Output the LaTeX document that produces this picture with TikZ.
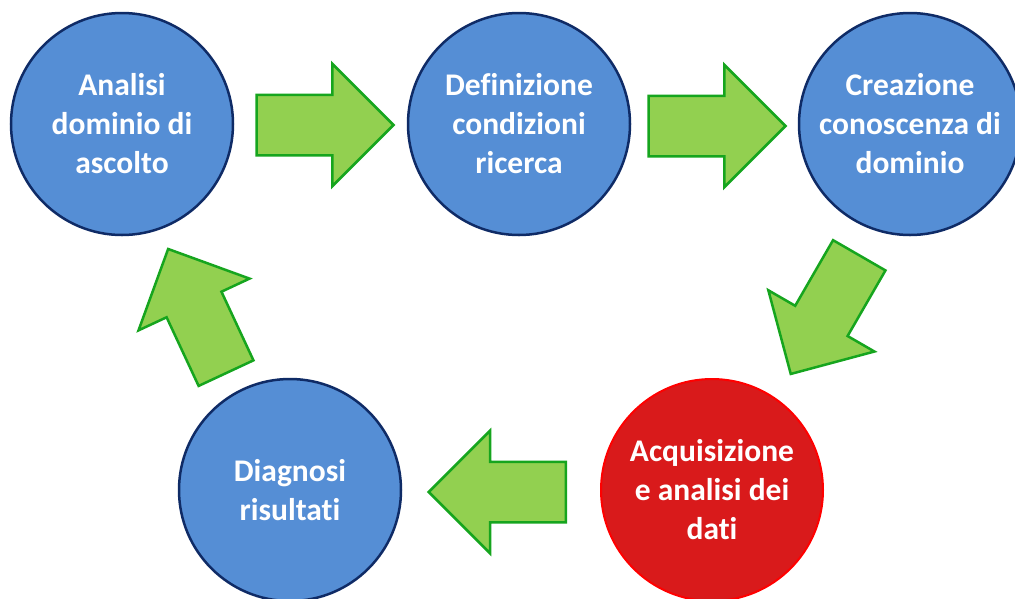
\documentclass[tikz,border=0pt]{standalone}
\usepackage{fontspec}
\setmainfont{Carlito}[Ligatures=NoCommon]
\usepackage{xcolor}
\usetikzlibrary{shapes.arrows}

\definecolor{blu}{HTML}{558ED5}
\definecolor{blubordo}{HTML}{0F2B66}
\definecolor{rosso}{HTML}{D91A1B}
\definecolor{rossobordo}{HTML}{FF0000}
\definecolor{verde}{HTML}{92D050}
\definecolor{verdebordo}{HTML}{16A51E}

\tikzset{
  fase/.style={circle, draw=blubordo, fill=blu, line width=2.5pt,
    minimum size=222pt, inner sep=0pt, align=center, text=white,
    font=\fontsize{31.5}{39}\selectfont\bfseries},
  attiva/.style={fase, draw=rossobordo, fill=rosso, line width=2pt},
  freccia/.style={single arrow, draw=verdebordo, fill=verde, line width=2.5pt,
    minimum height=137pt, minimum width=120pt, single arrow head extend=31pt,
    single arrow tip angle=90, inner xsep=0pt, inner ysep=29pt, anchor=tail}
}

\begin{document}
\begin{tikzpicture}[x=1pt, y=-1pt]
    % Page
    \clip (0,0) rectangle (1015,598);
    \fill[white] (0,0) rectangle (1015,598);

    % Phases
    \node[fase] (analisi) at (122,124) {Analisi\\dominio di\\ascolto};
    \node[fase] (definizione) at (519,124) {Definizione\\condizioni\\ricerca};
    \node[fase] (creazione) at (910,124) {Creazione\\conoscenza di\\dominio};
    \node[attiva] (acquisizione) at (712,490) {Acquisizione\\e analisi dei\\dati};
    \node[fase] (diagnosi) at (290,490) {Diagnosi\\risultati};

    % Arrows between phases (placed by their tail)
    \node[freccia] (f1) at ([shift={(21,1)}]analisi.east) {};
    \node[freccia] (f2) at ([shift={(16,2)}]definizione.east) {};
    \node[freccia, rotate=240] (f3) at ([shift={(6,33)}]creazione.240) {};
    \node[freccia, rotate=180] (f4) at ([shift={(-33,2)}]acquisizione.west) {};
    \node[freccia, rotate=115] (f5) at ([shift={(-16,-14)}]diagnosi.115) {};
\end{tikzpicture}
\end{document}
